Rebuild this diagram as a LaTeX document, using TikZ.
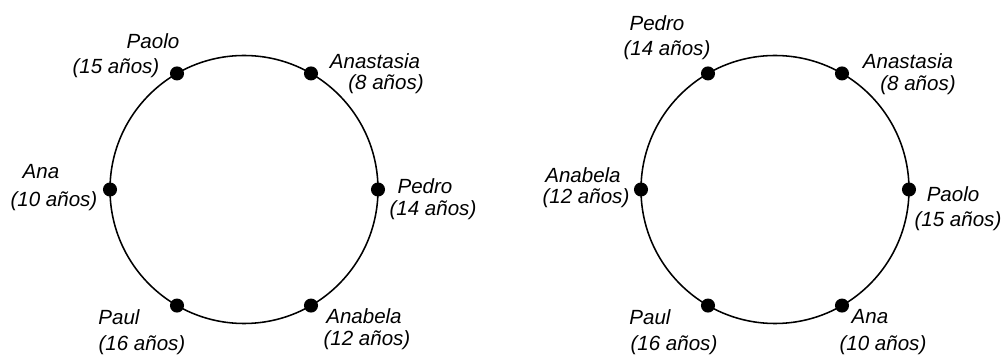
\documentclass[tikz,border=0pt]{standalone}
\usepackage{fontspec}
\setmainfont{Liberation Sans}
\usepackage{tikz}

\tikzset{
  dot/.style={circle, fill=black, inner sep=0pt, minimum size=10},
  lbl/.style={inner sep=0pt, font=\fontsize{14.6}{17}\selectfont\itshape}
}

\begin{document}
\begin{tikzpicture}[x=0.025cm, y=0.025cm]
\useasboundingbox (0,0) rectangle (1002,356);
\coordinate (L) at (244,166.5);
\coordinate (R) at (775,166.5);
\draw [line width=1.1pt] (L) circle (134);
\draw [line width=1.1pt] (R) circle (134);

\node[dot] (LPaolo) at ([shift={(120:134)}]L) {};
\node[dot] (LAnastasia) at ([shift={(60:134)}]L) {};
\node[dot] (LPedro) at ([shift={(0:134)}]L) {};
\node[dot] (LAnabela) at ([shift={(-60:134)}]L) {};
\node[dot] (LPaul) at ([shift={(-120:134)}]L) {};
\node[dot] (LAna) at ([shift={(180:134)}]L) {};

\node[lbl] (LPaoloN) at (153,315) {Paolo};
\node[lbl] (LPaoloA) at (116,288) {(15 años)};
\node[lbl] (LAnastasiaN) at (375,295) {Anastasia};
\node[lbl] (LAnastasiaA) at (386,272) {(8 años)};
\node[lbl] (LAnaN) at (41,184) {Ana};
\node[lbl] (LAnaA) at (54,155) {(10 años)};
\node[lbl] (LPedroN) at (425,170) {Pedro};
\node[lbl] (LPedroA) at (433,146) {(14 años)};
\node[lbl] (LPaulN) at (119,39) {Paul};
\node[lbl] (LPaulA) at (142,11) {(16 años)};
\node[lbl] (LAnabelaN) at (364,40) {Anabela};
\node[lbl] (LAnabelaA) at (367,16) {(12 años)};

\node[dot] (RPedro) at ([shift={(120:134)}]R) {};
\node[dot] (RAnastasia) at ([shift={(60:134)}]R) {};
\node[dot] (RPaolo) at ([shift={(0:134)}]R) {};
\node[dot] (RAna) at ([shift={(-60:134)}]R) {};
\node[dot] (RPaul) at ([shift={(-120:134)}]R) {};
\node[dot] (RAnabela) at ([shift={(180:134)}]R) {};

\node[lbl] (RPedroN) at (657,333) {Pedro};
\node[lbl] (RPedroA) at (667,306) {(14 años)};
\node[lbl] (RAnastasiaN) at (908,295) {Anastasia};
\node[lbl] (RAnastasiaA) at (918,271) {(8 años)};
\node[lbl] (RAnabelaN) at (583,181) {Anabela};
\node[lbl] (RAnabelaA) at (586,158) {(12 años)};
\node[lbl] (RPaoloN) at (953,162) {Paolo};
\node[lbl] (RPaoloA) at (958,135) {(15 años)};
\node[lbl] (RPaulN) at (650,39) {Paul};
\node[lbl] (RPaulA) at (674,11) {(16 años)};
\node[lbl] (RAnaN) at (870,39) {Ana};
\node[lbl] (RAnaA) at (883,11) {(10 años)};
\end{tikzpicture}
\end{document}
